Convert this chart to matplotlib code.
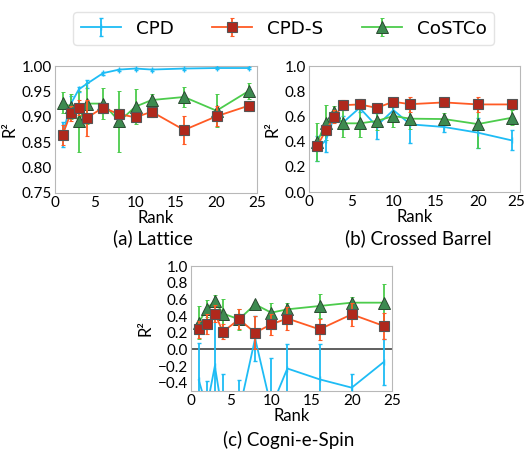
import numpy as np
import matplotlib
matplotlib.use("Agg")
import matplotlib.pyplot as plt
from matplotlib.transforms import ScaledTranslation

# ranks shared by all three panels
ranks = [1, 2, 3, 4, 6, 8, 10, 12, 16, 20, 24]

# (a) Lattice
lat_cpd = [0.865, 0.925, 0.954, 0.965, 0.986, 0.993, 0.995, 0.993, 0.995, 0.996, 0.996]
lat_cpd_err = [0.025, 0.015, 0.005, 0.008, 0.003, 0.002, 0.002, 0.002, 0.002, 0.002, 0.002]
lat_cpds = [0.864, 0.907, 0.918, 0.898, 0.918, 0.905, 0.899, 0.910, 0.874, 0.901, 0.922]
lat_cpds_err = [0.02, 0.015, 0.015, 0.035, 0.01, 0.01, 0.01, 0.01, 0.027, 0.02, 0.01]
lat_costco = [0.928, 0.920, 0.891, 0.926, 0.926, 0.891, 0.920, 0.933, 0.939, 0.912, 0.951]
lat_costco_err = [0.02, 0.025, 0.06, 0.04, 0.03, 0.06, 0.035, 0.012, 0.02, 0.033, 0.015]

# (b) Crossed Barrel
cb_cpd = [0.347, 0.41, 0.60, 0.55, 0.668, 0.524, 0.65, 0.537, 0.516, 0.471, 0.41]
cb_cpd_err = [0.1, 0.09, 0.04, 0.05, 0.03, 0.1, 0.05, 0.15, 0.04, 0.12, 0.08]
cb_cpds = [0.368, 0.489, 0.597, 0.689, 0.695, 0.668, 0.716, 0.697, 0.711, 0.695, 0.695]
cb_cpds_err = [0.04, 0.04, 0.05, 0.04, 0.04, 0.03, 0.03, 0.06, 0.03, 0.06, 0.03]
cb_costco = [0.40, 0.55, 0.632, 0.545, 0.545, 0.563, 0.603, 0.582, 0.579, 0.539, 0.589]
cb_costco_err = [0.15, 0.14, 0.05, 0.11, 0.11, 0.07, 0.09, 0.08, 0.05, 0.19, 0.06]

# (c) Cogni-e-Spin
cs_cpd = [-0.37, -0.70, -0.20, -0.80, -0.75, 0.13, -0.70, -0.23, -0.36, -0.46, -0.15]
cs_cpd_err = [0.45, 0.32, 0.60, 0.50, 0.38, 0.27, 0.60, 0.29, 0.43, 0.17, 0.28]
cs_cpds = [0.24, 0.30, 0.43, 0.21, 0.36, 0.20, 0.30, 0.37, 0.24, 0.42, 0.28]
cs_cpds_err = [0.10, 0.12, 0.10, 0.09, 0.12, 0.20, 0.13, 0.14, 0.13, 0.14, 0.16]
cs_costco = [0.32, 0.49, 0.58, 0.43, 0.36, 0.54, 0.44, 0.48, 0.52, 0.56, 0.56]
cs_costco_err = [0.20, 0.10, 0.07, 0.18, 0.13, 0.02, 0.12, 0.08, 0.14, 0.07, 0.22]

C_CPD = "#1ebcf5"
C_CPDS = "#ff5a24"
C_CPDS_FACE = "#b0281c"
C_COSTCO = "#4ccc4c"
C_COSTCO_FACE = "#3d8a50"

W, H = 527, 450
fig = plt.figure(figsize=(W / 100, H / 100), dpi=100)
FONT = "Lato"


def px_axes(left, top, right, bottom):
    return fig.add_axes([left / W, 1 - bottom / H, (right - left) / W, (bottom - top) / H])


def draw(ax, cpd, cpd_e, cpds, cpds_e, cst, cst_e):
    h1 = ax.errorbar(ranks, cpd, yerr=cpd_e, color=C_CPD, lw=1.3, marker="|",
                     ms=4, capsize=1.5, elinewidth=1.3, zorder=3)
    h2 = ax.errorbar(ranks, cpds, yerr=cpds_e, color=C_CPDS, lw=1.3, marker="s",
                     ms=7.5, mfc=C_CPDS_FACE, mec="#555555", mew=0.8,
                     capsize=1.5, elinewidth=1.3, zorder=4)
    h3 = ax.errorbar(ranks, cst, yerr=cst_e, color=C_COSTCO, lw=1.3, marker="^",
                     ms=8, mfc=C_COSTCO_FACE, mec="#2a4a30", mew=0.7,
                     capsize=1.5, elinewidth=1.3, zorder=3)
    ax.set_xlim(0, 25)
    ax.set_xticks([0, 5, 10, 15, 20, 25])
    for s in ax.spines.values():
        s.set_color("#b8b8b8")
    ax.tick_params(labelsize=11, length=0, pad=2)
    for lab in ax.get_xticklabels() + ax.get_yticklabels():
        lab.set_family(FONT)
    ax.set_xlabel("Rank", fontsize=12, family=FONT, labelpad=0)
    ax.set_ylabel("R²", fontsize=12, family=FONT, labelpad=3)
    return h1, h2, h3


ax_a = px_axes(54.5, 66, 257, 193)
handles = draw(ax_a, lat_cpd, lat_cpd_err, lat_cpds, lat_cpds_err, lat_costco, lat_costco_err)
ax_a.set_ylim(0.75, 1.0)
ax_a.set_yticks([0.75, 0.80, 0.85, 0.90, 0.95, 1.00])
ax_a.set_yticklabels(["0.75", "0.80", "0.85", "0.90", "0.95", "1.00"], family=FONT)

ax_b = px_axes(309, 66, 520, 192)
draw(ax_b, cb_cpd, cb_cpd_err, cb_cpds, cb_cpds_err, cb_costco, cb_costco_err)
ax_b.set_ylim(0, 1.0)
ax_b.set_yticks([0, 0.2, 0.4, 0.6, 0.8, 1.0])
ax_b.set_yticklabels(["0.0", "0.2", "0.4", "0.6", "0.8", "1.0"], family=FONT)
# nudge the last x label so it stays inside the figure
last = ax_b.get_xticklabels()[-1]
last.set_transform(last.get_transform() + ScaledTranslation(-4 / 100, 0, fig.dpi_scale_trans))

ax_c = px_axes(190.7, 266, 392, 391)
draw(ax_c, cs_cpd, cs_cpd_err, cs_cpds, cs_cpds_err, cs_costco, cs_costco_err)
ax_c.axhline(0, color="#444444", lw=1.2, zorder=2)
ax_c.set_ylim(-0.5, 1.0)
ax_c.set_yticks([-0.4, -0.2, 0, 0.2, 0.4, 0.6, 0.8, 1.0])
ax_c.set_yticklabels(["\u22120.4", "\u22120.2", "0.0", "0.2", "0.4", "0.6", "0.8", "1.0"], family=FONT)

fig.text(153 / W, 1 - 238 / H, "(a) Lattice", ha="center", va="center", fontsize=13.5, family=FONT)
fig.text(418 / W, 1 - 238 / H, "(b) Crossed Barrel", ha="center", va="center", fontsize=13.5, family=FONT)
fig.text(289 / W, 1 - 440 / H, "(c) Cogni-e-Spin", ha="center", va="center", fontsize=13.5, family=FONT)

leg = fig.legend(handles, ["CPD", "CPD-S", "CoSTCo"], loc="upper center",
                 bbox_to_anchor=(283.5 / W, 1 - 3 / H), ncol=3, fontsize=13.2,
                 frameon=True, handlelength=2.2, handletextpad=0.8,
                 columnspacing=2.1, borderpad=0.4)
leg.get_frame().set_edgecolor("#dddddd")

fig.savefig("out.png", dpi=100)
